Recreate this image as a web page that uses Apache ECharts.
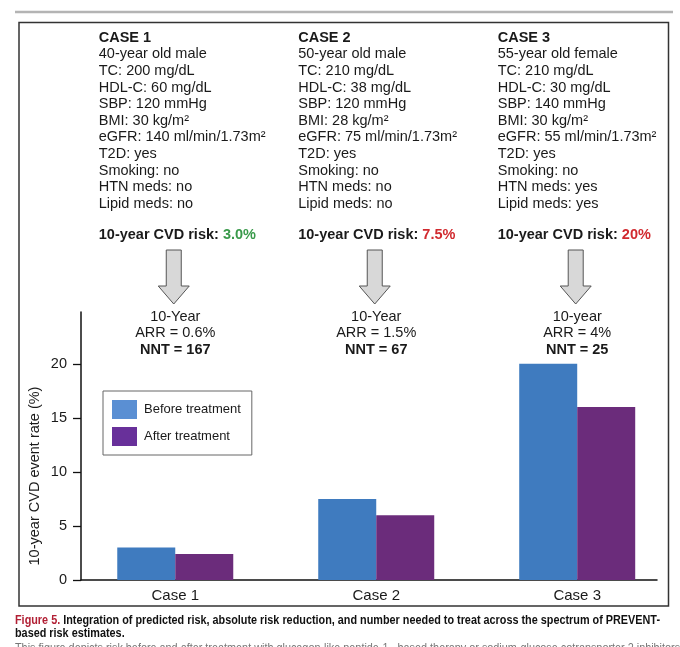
<!DOCTYPE html>
<html><head><meta charset="utf-8">
<script src="https://cdn.jsdelivr.net/npm/echarts@6/dist/echarts.min.js"></script>
<style>html,body{margin:0;padding:0;background:#fff}#c{width:680px;height:647px}</style>
</head><body><div id="c"></div>
<script>
// ---- data ----
const categories = ['Case 1', 'Case 2', 'Case 3'];
const beforeTreatment = [3.0, 7.5, 20];
const afterTreatment = [2.4, 6.0, 16];
const yTicks = [0, 5, 10, 15, 20];
const seriesNames = ['Before treatment', 'After treatment'];
const caseTitles = ['CASE 1', 'CASE 2', 'CASE 3'];
const case1Details = ['40-year old male', 'TC: 200 mg/dL', 'HDL-C: 60 mg/dL', 'SBP: 120 mmHg', 'BMI: 30 kg/m²', 'eGFR: 140 ml/min/1.73m²', 'T2D: yes', 'Smoking: no', 'HTN meds: no', 'Lipid meds: no'];
const case2Details = ['50-year old male', 'TC: 210 mg/dL', 'HDL-C: 38 mg/dL', 'SBP: 120 mmHg', 'BMI: 28 kg/m²', 'eGFR: 75 ml/min/1.73m²', 'T2D: yes', 'Smoking: no', 'HTN meds: no', 'Lipid meds: no'];
const case3Details = ['55-year old female', 'TC: 210 mg/dL', 'HDL-C: 30 mg/dL', 'SBP: 140 mmHg', 'BMI: 30 kg/m²', 'eGFR: 55 ml/min/1.73m²', 'T2D: yes', 'Smoking: no', 'HTN meds: yes', 'Lipid meds: yes'];
const cvdRisk = ['3.0%', '7.5%', '20%'];
const cvdRiskLevel = ['low', 'high', 'high'];
const horizonLabels = ['10-Year', '10-Year', '10-year'];
const arrLabels = ['ARR = 0.6%', 'ARR = 1.5%', 'ARR = 4%'];
const nntLabels = ['NNT = 167', 'NNT = 67', 'NNT = 25'];
const yAxisTitle = '10-year CVD event rate (%)';
const captionLine1a = 'Figure 5.';
const captionLine1b = ' Integration of predicted risk, absolute risk reduction, and number needed to treat across the spectrum of PREVENT-';
const captionLine2 = 'based risk estimates.';
const captionLine3 = 'This figure depicts risk before and after treatment with glucagon-like peptide-1– based therapy or sodium-glucose cotransporter 2 inhibitors';

// ---- styles ----
const FONT = '"Liberation Sans", Arial, Helvetica, sans-serif';
const TXT = '#1a1a1a';
const barColors = ['#3f7bbf', '#6b2c7b'];
const legendColors = ['#5a8fd3', '#68309a'];
const riskColors = { low: '#3a9a4b', high: '#d12a2f' };
const caseDetails = [case1Details, case2Details, case3Details];

const chart = echarts.init(document.getElementById('c'), null, { renderer: 'canvas' });

const option = {
  animation: false,
  backgroundColor: '#fff',
  grid: { left: 81, right: 23, top: 312, bottom: 67 },
  legend: {
    orient: 'vertical', left: 103, top: 391,
    padding: [9, 11, 9, 9],
    itemWidth: 25, itemHeight: 19, itemGap: 8,
    borderColor: '#666', borderWidth: 1,
    icon: 'rect',
    textStyle: { fontFamily: FONT, fontSize: 13, color: TXT, padding: [0, 0, 0, 2] },
    data: seriesNames.map((n, i) => ({ name: n, itemStyle: { color: legendColors[i] } }))
  },
  xAxis: {
    type: 'value', min: 0.531, max: 3.397,
    splitLine: { show: false },
    axisLine: { show: true, onZero: false, lineStyle: { color: '#111', width: 1.5 } },
    axisTick: { show: false },
    axisLabel: {
      customValues: categories.map((c, i) => i + 1),
      formatter: v => categories[Math.round(v) - 1] || '',
      fontFamily: FONT, fontSize: 15, color: TXT, margin: 8
    }
  },
  yAxis: {
    type: 'value', min: 0, max: 24.8, interval: 5,
    splitLine: { show: false },
    axisLine: { show: true, lineStyle: { color: '#111', width: 1.5 } },
    axisTick: { show: true, length: 8, customValues: yTicks, lineStyle: { color: '#111', width: 1.3 } },
    axisLabel: { customValues: yTicks, fontFamily: FONT, fontSize: 14.5, color: TXT, margin: 14 }
  },
  series: [
    {
      name: seriesNames[0], type: 'bar', barWidth: 58, barGap: '0%',
      itemStyle: { color: barColors[0] },
      data: categories.map((c, i) => [i + 1, beforeTreatment[i]])
    },
    {
      name: seriesNames[1], type: 'bar', barWidth: 58, barGap: '0%',
      itemStyle: { color: barColors[1] },
      data: categories.map((c, i) => [i + 1, afterTreatment[i]])
    }
  ]
};
chart.setOption(option);

const centers = categories.map((c, i) => chart.convertToPixel({ gridIndex: 0 }, [i + 1, 0])[0]);

// caption width fit
const ctx = document.createElement('canvas').getContext('2d');
const capFontFamily = '"Liberation Sans Narrow", "Arial Narrow", "Liberation Sans", Arial, sans-serif';
const capSize = 12.5;
ctx.font = 'bold ' + capSize + 'px ' + capFontFamily;
const capW = ctx.measureText(captionLine1a + captionLine1b).width;
const capScale = 645 / capW;

const graphics = [];
// top gray rule
graphics.push({ type: 'line', shape: { x1: 15, y1: 12, x2: 673, y2: 12 }, style: { stroke: '#b4b4b4', lineWidth: 2.5 }, z: 0 });
// outer box
graphics.push({ type: 'rect', shape: { x: 19, y: 22.5, width: 649.5, height: 583.5 }, style: { fill: null, stroke: '#333', lineWidth: 1.5 }, z: 0 });

const textOffsets = [-76.5, -78, -79.5];
centers.forEach((cx, i) => {
  const tx = cx + textOffsets[i];
  graphics.push({
    type: 'text', x: tx, y: 29.5, z: 10,
    style: {
      text: '{b|' + caseTitles[i] + '}\n' + caseDetails[i].join('\n'),
      font: '14.5px ' + FONT, fill: TXT, lineHeight: 16.6,
      align: 'left', verticalAlign: 'top',
      rich: { b: { fontWeight: 'bold', fontSize: 14.5, fontFamily: FONT, lineHeight: 16.6, fill: TXT } }
    }
  });
  graphics.push({
    type: 'text', x: tx, y: 227.1, z: 10,
    style: {
      text: '{b|10-year CVD risk: }{r|' + cvdRisk[i] + '}',
      font: 'bold 14.5px ' + FONT, fill: TXT, lineHeight: 16.6,
      align: 'left', verticalAlign: 'top',
      rich: {
        b: { fontWeight: 'bold', fontSize: 14.5, fontFamily: FONT, lineHeight: 16.6, fill: TXT },
        r: { fontWeight: 'bold', fontSize: 14.5, fontFamily: FONT, lineHeight: 16.6, fill: riskColors[cvdRiskLevel[i]] }
      }
    }
  });
  // arrow
  const ax = cx - 1.5;
  graphics.push({
    type: 'polygon', z: 10,
    shape: { points: [[ax - 7.5, 250], [ax + 7.5, 250], [ax + 7.5, 286], [ax + 15.5, 286], [ax, 304], [ax - 15.5, 286], [ax - 7.5, 286]] },
    style: { fill: '#d8d8d8', stroke: '#555', lineWidth: 1 }
  });
  // ARR / NNT annotation
  graphics.push({
    type: 'text', x: cx, y: 308.8, z: 10,
    style: {
      text: horizonLabels[i] + '\n' + arrLabels[i] + '\n{b|' + nntLabels[i] + '}',
      font: '14.5px ' + FONT, fill: TXT, lineHeight: 16.4,
      align: 'center', verticalAlign: 'top',
      rich: { b: { fontWeight: 'bold', fontSize: 14.5, fontFamily: FONT, lineHeight: 16.4, fill: TXT } }
    }
  });
});

// y-axis title
graphics.push({
  type: 'text', x: 35, y: 476, rotation: Math.PI / 2, z: 10,
  style: { text: yAxisTitle, font: '14.5px ' + FONT, fill: TXT, align: 'center', verticalAlign: 'middle' }
});

// caption
graphics.push({
  type: 'text', x: 15, y: 614.5, scaleX: capScale, z: 10,
  style: {
    text: '{r|' + captionLine1a + '}{k|' + captionLine1b + '}\n{k|' + captionLine2 + '}',
    font: 'bold ' + capSize + 'px ' + capFontFamily, fill: '#111', lineHeight: 13,
    align: 'left', verticalAlign: 'top',
    rich: {
      r: { fontWeight: 'bold', fontSize: capSize, fontFamily: capFontFamily, lineHeight: 13, fill: '#b22035' },
      k: { fontWeight: 'bold', fontSize: capSize, fontFamily: capFontFamily, lineHeight: 13, fill: '#111' }
    }
  }
});
graphics.push({
  type: 'text', x: 15, y: 642, scaleX: capScale, z: 10,
  style: { text: captionLine3, font: capSize + 'px ' + capFontFamily, fill: '#777', align: 'left', verticalAlign: 'top' }
});

chart.setOption({ graphic: graphics });
</script>
</body></html>
